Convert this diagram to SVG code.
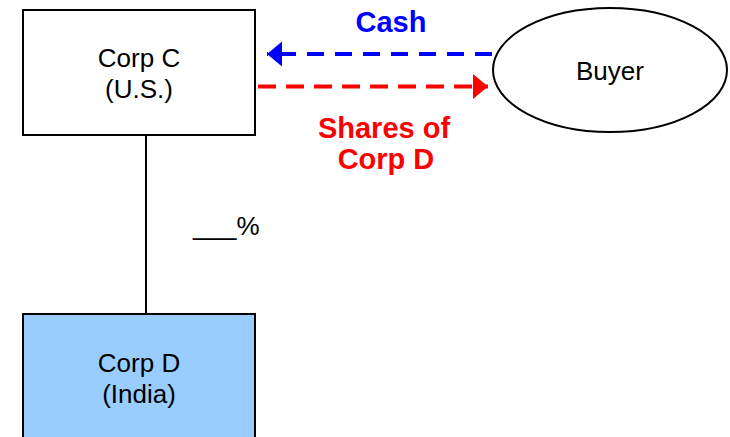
<svg xmlns="http://www.w3.org/2000/svg" width="730" height="437" viewBox="0 0 730 437">
<style>
text{font-family:"Liberation Sans",Arial,sans-serif;text-anchor:middle}
.n{font-size:26px;fill:#000}
.b{font-size:29px;font-weight:bold}
.box{stroke:#000;stroke-width:2}
</style>
<defs>
<marker id="ab" markerWidth="16" markerHeight="26" refX="15" refY="12.5" orient="auto" markerUnits="userSpaceOnUse"><path d="M0,0L15,12.5L0,25z" fill="#0000FF"/></marker>
<marker id="ar" markerWidth="16" markerHeight="26" refX="15" refY="12.5" orient="auto" markerUnits="userSpaceOnUse"><path d="M0,0L15,12.5L0,25z" fill="#FF0000"/></marker>
</defs>
<rect width="730" height="437" fill="#fff"/>
<g id="connectors">
<line x1="146" y1="135" x2="146" y2="314" stroke="#000" stroke-width="2"/>
<line x1="492" y1="54" x2="267" y2="54" stroke="#0000FF" stroke-width="4" stroke-dasharray="17,11" marker-end="url(#ab)"/>
<line x1="258" y1="86.5" x2="488" y2="86.5" stroke="#FF0000" stroke-width="4" stroke-dasharray="18,10" marker-end="url(#ar)"/>
<text class="b" x="391" y="32" fill="#0000FF">Cash</text>
<text class="b" x="384" y="138" fill="#FF0000">Shares of</text>
<text class="b" x="386" y="169" fill="#FF0000">Corp D</text>
<text class="n" x="193" y="235" style="text-anchor:start">___%</text>
</g>
<g id="corpC">
<rect class="box" x="23" y="10" width="232" height="125" fill="#fff"/>
<text class="n" x="139" y="67">Corp C</text>
<text class="n" x="139" y="98">(U.S.)</text>
</g>
<g id="buyer">
<ellipse cx="610" cy="70" rx="117" ry="62" fill="#fff" stroke="#000" stroke-width="2"/>
<text class="n" x="610" y="80">Buyer</text>
</g>
<g id="corpD">
<rect class="box" x="23" y="314" width="232" height="130" fill="#99CCFF"/>
<text class="n" x="139" y="372">Corp D</text>
<text class="n" x="139" y="403">(India)</text>
</g>
</svg>
